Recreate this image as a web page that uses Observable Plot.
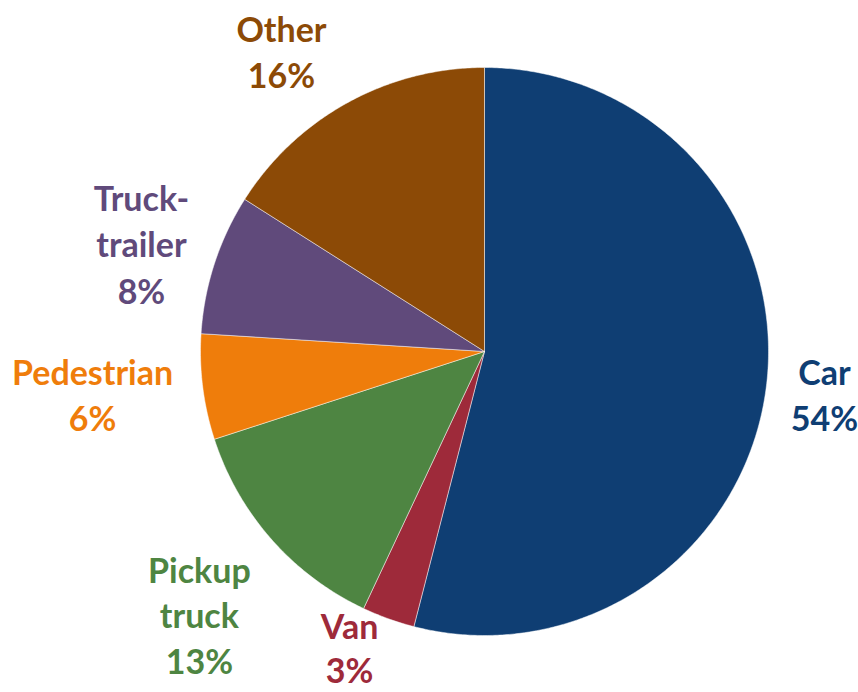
<!DOCTYPE html>
<html><head><meta charset="utf-8">
<script src="https://cdn.jsdelivr.net/npm/d3@7"></script>
<script src="https://cdn.jsdelivr.net/npm/@observablehq/plot@0.6"></script>
<style>body{margin:0;background:#fff}</style>
</head><body><div id="chart"></div>
<script>
// data
const categories = ["Car", "Van", "Pickup truck", "Pedestrian", "Truck-trailer", "Other"];
const shares = [54, 3, 13, 6, 8, 16];
const labelTexts = ["Car\n54%", "Van\n3%", "Pickup\ntruck\n13%", "Pedestrian\n6%", "Truck-\ntrailer\n8%", "Other\n16%"];
const colors = ["#0f3e73", "#9e2a3a", "#4e8542", "#ef7d0b", "#604a7b", "#8c4a06"];
// layout: label centres in pie-radius units
const labelPos = [[1.197, -0.148], [-0.475, -1.040], [-1.004, -0.923], [-1.380, -0.148], [-1.208, 0.384], [-0.715, 1.060]];
const labelLineHeights = [1.34, 1.28, 1.34, 1.34, 1.38, 1.34];

const total = d3.sum(shares);
let acc = 0;
const slices = categories.map((c, i) => {
  const a0 = acc / total * 2 * Math.PI;
  acc += shares[i];
  const a1 = acc / total * 2 * Math.PI;
  const pts = [{x: 0, y: 0}];
  const n = Math.max(4, Math.ceil((a1 - a0) / (Math.PI / 360)));
  for (let k = 0; k <= n; k++) {
    const a = a0 + (a1 - a0) * k / n;
    pts.push({x: Math.sin(a), y: Math.cos(a)});
  }
  pts.push({x: 0, y: 0});
  return {cat: c, color: colors[i], pts};
});
const labels = categories.map((c, i) => ({text: labelTexts[i], x: labelPos[i][0], y: labelPos[i][1], color: colors[i], lh: labelLineHeights[i]}));

const R = 284, W = 858, H = 692, cx = 484, cy = 351;
const chart = Plot.plot({
  width: W, height: H, margin: 0,
  x: {domain: [-cx / R, (W - cx) / R], axis: null},
  y: {domain: [-(H - cy) / R, cy / R], axis: null},
  marks: [
    ...slices.map(s => Plot.line(s.pts, {x: "x", y: "y", fill: s.color, stroke: "#ffffff", strokeWidth: 0.8, strokeOpacity: 0.6, curve: "linear"})),
    ...labels.map(l => Plot.text([l], {x: "x", y: "y", text: "text", fill: l.color, fontSize: 34, fontWeight: "bold", lineHeight: l.lh, fontFamily: "Lato"}))
  ]
});
chart.style.fontFamily = "Lato";
document.getElementById("chart").append(chart);
</script>
</body></html>
